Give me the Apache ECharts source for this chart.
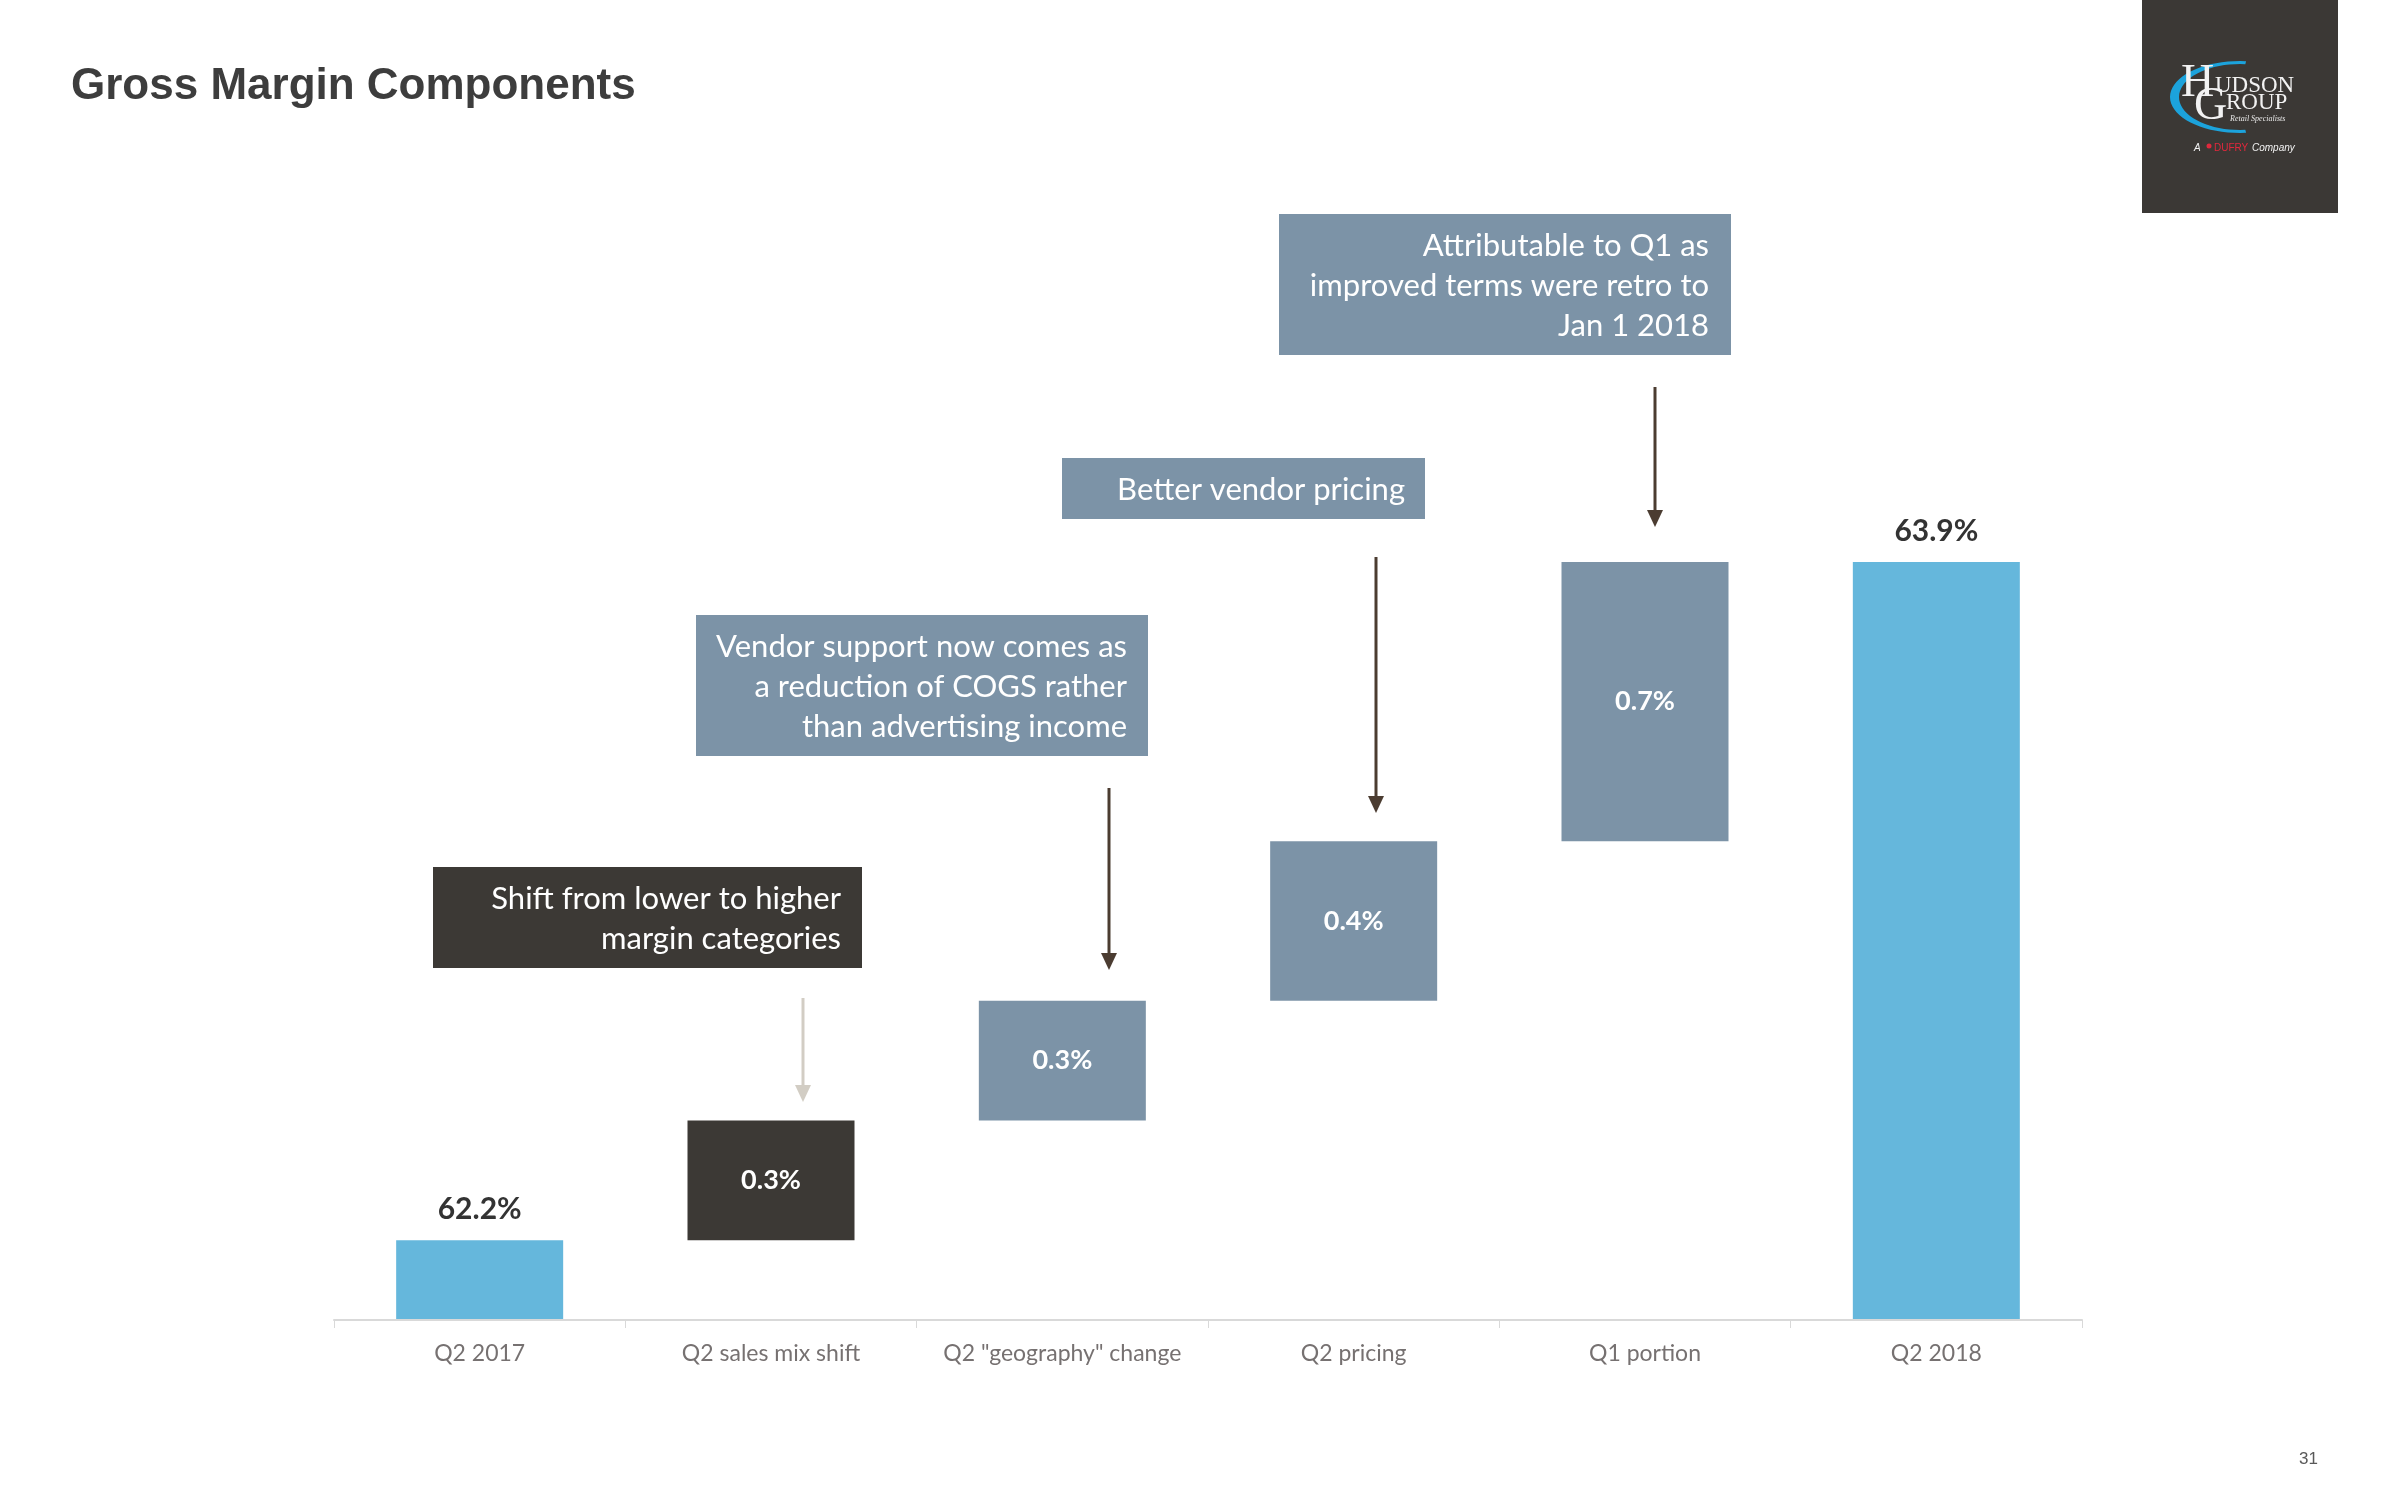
<!DOCTYPE html>
<html>
<head>
<meta charset="utf-8">
<script src="https://cdn.jsdelivr.net/npm/echarts@6/dist/echarts.min.js"></script>
<style>
html,body{margin:0;padding:0;background:#ffffff;}
#chart{width:2400px;height:1500px;}
</style>
</head>
<body>
<div id="chart"></div>
<script>
// ---------- data ----------
const categories = ['Q2 2017', 'Q2 sales mix shift', 'Q2 "geography" change', 'Q2 pricing', 'Q1 portion', 'Q2 2018'];
const startMargin = 62.2;   // Q2 2017 gross margin, %
const endMargin = 63.9;     // Q2 2018 gross margin, %
const changes = [0.3, 0.3, 0.4, 0.7]; // bridge steps, % points
const noteTexts = [
  'Shift from lower to higher\nmargin categories',
  'Vendor support now comes as\na reduction of COGS rather\nthan advertising income',
  'Better vendor pricing',
  'Attributable to Q1 as\nimproved terms were retro to\nJan 1 2018'
];
const titleText = 'Gross Margin Components';
const pageNumber = '31';

// ---------- styles ----------
const BLUE = '#65b7dc';
const SLATE = '#7c93a7';
const DARK = '#3c3935';
const ARROW = '#4b3c31';
const ARROW_LIGHT = '#d2cdc4';
const changeColors = [DARK, SLATE, SLATE, SLATE];
const FONT = 'Lato, "Open Sans", sans-serif';

// ---------- build waterfall series ----------
const baseData = ['-'];
const stepData = ['-'];
let running = startMargin;
changes.forEach(function (c, i) {
  baseData.push(Math.round(running * 10) / 10);
  stepData.push({ value: c, itemStyle: { color: changeColors[i] } });
  running += c;
});
baseData.push('-');
stepData.push('-');
const totalData = [startMargin].concat(changes.map(function () { return '-'; }), [endMargin]);

// ---------- annotation layout (pixels) ----------
const notes = [
  { box: [433, 867, 429, 101], fill: DARK, textRight: 841 },
  { box: [696, 615, 452, 141], fill: SLATE, textRight: 1127 },
  { box: [1062, 458, 363, 61], fill: SLATE, textRight: 1405 },
  { box: [1279, 214, 452, 141], fill: SLATE, textRight: 1709 }
];
const arrows = [
  { x: 803, y1: 998, y2: 1102, color: ARROW_LIGHT },
  { x: 1109, y1: 788, y2: 970, color: ARROW },
  { x: 1376, y1: 557, y2: 813, color: ARROW },
  { x: 1655, y1: 387, y2: 527, color: ARROW }
];

const graphics = [];
notes.forEach(function (n, i) {
  graphics.push({
    type: 'rect', z: 10,
    shape: { x: n.box[0], y: n.box[1], width: n.box[2], height: n.box[3] },
    style: { fill: n.fill }
  });
  graphics.push({
    type: 'text', z: 11,
    x: n.textRight, y: n.box[1] + n.box[3] / 2 + 1,
    style: {
      text: noteTexts[i], fill: '#ffffff',
      fontFamily: FONT, fontSize: 31, lineHeight: 40,
      align: 'right', verticalAlign: 'middle'
    }
  });
});
arrows.forEach(function (a) {
  graphics.push({
    type: 'line', z: 10,
    shape: { x1: a.x, y1: a.y1, x2: a.x, y2: a.y2 - 12 },
    style: { stroke: a.color, lineWidth: 3 }
  });
  graphics.push({
    type: 'polygon', z: 10,
    shape: { points: [[a.x - 8, a.y2 - 17], [a.x + 8, a.y2 - 17], [a.x, a.y2]] },
    style: { fill: a.color }
  });
});

// ---------- logo (decoration) ----------
const logoX = 2142, logoW = 196, logoH = 213;
graphics.push({ type: 'rect', z: 20, shape: { x: logoX, y: 0, width: logoW, height: logoH }, style: { fill: '#3b3835' } });
(function () {
  const cx = 2240, cy = 97, pts = [];
  for (let a = 85; a <= 275; a += 5) {
    const r = a * Math.PI / 180;
    pts.push([cx + 70 * Math.cos(r), cy - 36 * Math.sin(r)]);
  }
  for (let a = 275; a >= 85; a -= 5) {
    const r = a * Math.PI / 180;
    pts.push([cx + 61 * Math.cos(r), cy - 33 * Math.sin(r)]);
  }
  graphics.push({ type: 'polygon', z: 21, shape: { points: pts }, style: { fill: '#1ca3dc' } });
})();
const serif = '"Liberation Serif", "DejaVu Serif", serif';
graphics.push({ type: 'text', z: 22, x: 2181, y: 107, style: { text: 'H', fill: '#f2f2f2', fontFamily: serif, fontSize: 46, verticalAlign: 'bottom' } });
graphics.push({ type: 'text', z: 22, x: 2215, y: 97, style: { text: 'UDSON', fill: '#f2f2f2', fontFamily: serif, fontSize: 23, verticalAlign: 'bottom' } });
graphics.push({ type: 'text', z: 22, x: 2194, y: 130, style: { text: 'G', fill: '#f2f2f2', fontFamily: serif, fontSize: 46, verticalAlign: 'bottom' } });
graphics.push({ type: 'text', z: 22, x: 2226, y: 114, style: { text: 'ROUP', fill: '#f2f2f2', fontFamily: serif, fontSize: 23, verticalAlign: 'bottom' } });
graphics.push({ type: 'text', z: 22, x: 2230, y: 119, style: { text: 'Retail Specialists', fill: '#e8e8e8', fontFamily: serif, fontStyle: 'italic', fontSize: 8, verticalAlign: 'middle' } });
graphics.push({ type: 'text', z: 22, x: 2194, y: 148, style: { text: 'A', fill: '#f2f2f2', fontFamily: 'Liberation Sans', fontStyle: 'italic', fontSize: 10, verticalAlign: 'middle' } });
graphics.push({ type: 'circle', z: 22, shape: { cx: 2209, cy: 146, r: 2.5 }, style: { fill: '#e0283c' } });
graphics.push({ type: 'text', z: 22, x: 2214, y: 148, style: { text: 'DUFRY', fill: '#e0283c', fontFamily: 'Liberation Sans', fontSize: 10, verticalAlign: 'middle' } });
graphics.push({ type: 'text', z: 22, x: 2252, y: 148, style: { text: 'Company', fill: '#f2f2f2', fontFamily: 'Liberation Sans', fontStyle: 'italic', fontSize: 10, verticalAlign: 'middle' } });

// page number
graphics.push({ type: 'text', z: 22, x: 2318, y: 1459, style: { text: pageNumber, fill: '#595959', fontFamily: 'Liberation Sans', fontSize: 17, align: 'right', verticalAlign: 'middle' } });

// ---------- chart ----------
const chart = echarts.init(document.getElementById('chart'), null, { renderer: 'canvas' });
chart.setOption({
  backgroundColor: '#ffffff',
  animation: false,
  title: {
    text: titleText, left: 66, top: 60,
    textStyle: { fontFamily: '"Liberation Sans", Arial, sans-serif', fontWeight: 'bold', fontSize: 44, color: '#3d3d3d' }
  },
  grid: { left: 334, right: 318, top: 522, bottom: 180, containLabel: false },
  xAxis: {
    type: 'category', data: categories, z: 5,
    axisLine: { show: true, lineStyle: { color: '#d9d9d9', width: 2 } },
    axisTick: { show: true, alignWithLabel: false, length: 8, lineStyle: { color: '#d9d9d9', width: 1 } },
    axisLabel: { interval: 0, color: '#767171', fontFamily: FONT, fontSize: 23, margin: 22 },
    splitLine: { show: false }
  },
  yAxis: { type: 'value', min: 62, max: 64, show: false, splitLine: { show: false } },
  series: [
    {
      name: 'base', type: 'bar', stack: 'wf', data: baseData, barWidth: 167, silent: true,
      itemStyle: { color: 'rgba(0,0,0,0)' }, label: { show: false }, emphasis: { disabled: true }
    },
    {
      name: 'change', type: 'bar', stack: 'wf', data: stepData, barWidth: 167,
      label: {
        show: true, position: 'inside', color: '#ffffff', fontFamily: FONT, fontWeight: 'bold', fontSize: 27,
        formatter: function (p) { return p.value.toFixed(1) + '%'; }
      },
      emphasis: { disabled: true }
    },
    {
      name: 'total', type: 'bar', stack: 'wf', data: totalData, barWidth: 167,
      itemStyle: { color: BLUE },
      label: {
        show: true, position: 'top', distance: 16, color: '#333333', fontFamily: FONT, fontWeight: 'bold', fontSize: 30,
        formatter: function (p) { return p.value.toFixed(1) + '%'; }
      },
      emphasis: { disabled: true }
    }
  ],
  graphic: { elements: graphics }
});
</script>
</body>
</html>
